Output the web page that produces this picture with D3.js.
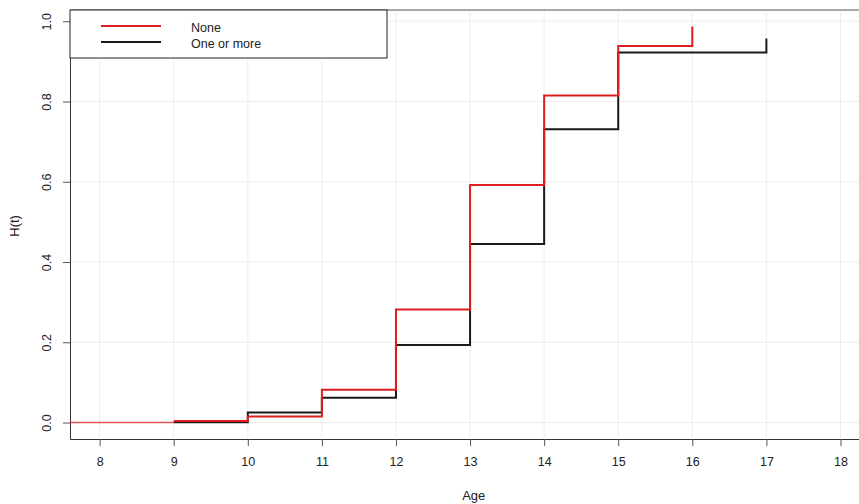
<!DOCTYPE html>
<html>
<head>
<meta charset="utf-8">
<script src="https://cdn.jsdelivr.net/npm/d3@7"></script>
<style>
  body { margin: 0; background: #fff; }
  svg { display: block; font-family: "Liberation Sans", Arial, sans-serif; }
</style>
</head>
<body>
<svg id="chart" width="859" height="504"></svg>
<script>
// Cumulative hazard H(t) by age, per group
const xTicks = [8, 9, 10, 11, 12, 13, 14, 15, 16, 17, 18];
const yTicks = [0.0, 0.2, 0.4, 0.6, 0.8, 1.0];
const groups = ["None", "One or more"];
const colors = ["#dc1e1e", "#1a1a1a"];

const noneAge = [9, 10, 11, 12, 13, 14, 15, 16];
const noneH   = [0.004, 0.015, 0.082, 0.282, 0.592, 0.815, 0.938, 0.987];
const moreAge = [9, 10, 11, 12, 13, 14, 15, 17];
const moreH   = [0.001, 0.025, 0.062, 0.193, 0.445, 0.731, 0.922, 0.957];

const svg = d3.select("#chart");
const plotL = 70, plotT = 10, plotR = 859, plotB = 439;

const x = d3.scaleLinear().domain([7.6, 18.25]).range([plotL, plotR]);
const y = d3.scaleLinear().domain([-0.041, 1.028]).range([plotB, plotT]);

// grid
svg.append("g").selectAll("line").data(xTicks).join("line")
  .attr("x1", d => x(d)).attr("x2", d => x(d))
  .attr("y1", plotT).attr("y2", plotB)
  .attr("stroke", "#ededed").attr("stroke-width", 1);
svg.append("g").selectAll("line").data(yTicks).join("line")
  .attr("x1", plotL).attr("x2", plotR)
  .attr("y1", d => y(d)).attr("y2", d => y(d))
  .attr("stroke", "#ededed").attr("stroke-width", 1);

// axes
const xAxis = svg.append("g").attr("transform", `translate(0,${plotB})`)
  .call(d3.axisBottom(x).tickValues(xTicks).tickFormat(d3.format("d")).tickSize(7).tickPadding(11).tickSizeOuter(0));
xAxis.select(".domain").attr("stroke", "#333");
xAxis.selectAll(".tick line").attr("stroke", "#555");
xAxis.selectAll(".tick text").attr("font-size", 12.5).attr("fill", "#222")
  .attr("font-family", "Liberation Sans, Arial, sans-serif");

const yAxis = svg.append("g").attr("transform", `translate(${plotL},0)`)
  .call(d3.axisLeft(y).tickValues(yTicks).tickFormat(d3.format(".1f")).tickSize(7).tickSizeOuter(0));
yAxis.select(".domain").attr("stroke", "#333");
yAxis.selectAll(".tick line").attr("stroke", "#555");
yAxis.selectAll(".tick text")
  .attr("font-size", 12.5).attr("fill", "#222")
  .attr("font-family", "Liberation Sans, Arial, sans-serif")
  .attr("x", 0).attr("y", 0).attr("dy", "0.35em")
  .attr("text-anchor", "middle")
  .attr("transform", "translate(-23,0) rotate(-90)");

// top border
svg.append("line").attr("x1", plotL).attr("x2", plotR).attr("y1", plotT).attr("y2", plotT)
  .attr("stroke", "#555").attr("stroke-width", 1);

// step curves
const line = d3.line().x(d => x(d[0])).y(d => y(d[1])).curve(d3.curveStepAfter);

const morePts = moreAge.map((a, i) => [a, moreH[i]]);
const nonePts = noneAge.map((a, i) => [a, noneH[i]]);

// baseline before first event
svg.append("path")
  .attr("d", line([[x.domain()[0], 0], [noneAge[0], 0]]))
  .attr("fill", "none").attr("stroke", colors[0]).attr("stroke-opacity", 0.75).attr("stroke-width", 1.5);

svg.append("path").attr("d", line(morePts))
  .attr("fill", "none").attr("stroke", colors[1]).attr("stroke-width", 2);
svg.append("path").attr("d", line(nonePts))
  .attr("fill", "none").attr("stroke", colors[0]).attr("stroke-width", 2);

// axis titles
svg.append("text").attr("x", x(13.05)).attr("y", 500)
  .attr("text-anchor", "middle").attr("font-size", 13).attr("fill", "#222").text("Age");
svg.append("text").attr("transform", `translate(19,${y(0.49)}) rotate(-90)`)
  .attr("text-anchor", "middle").attr("font-size", 13).attr("fill", "#222").text("H(t)");

// legend
const lg = svg.append("g");
lg.append("rect").attr("x", plotL).attr("y", plotT).attr("width", 317).attr("height", 48)
  .attr("fill", "#fff").attr("stroke", "#222").attr("stroke-width", 1);
groups.forEach((g, i) => {
  const yy = 26 + i * 16;
  lg.append("line").attr("x1", 101).attr("x2", 161).attr("y1", yy).attr("y2", yy)
    .attr("stroke", colors[i]).attr("stroke-width", 2);
  lg.append("text").attr("x", 191).attr("y", yy + 6).attr("font-size", 12.5)
    .attr("fill", "#222").text(g);
});
</script>
</body>
</html>
